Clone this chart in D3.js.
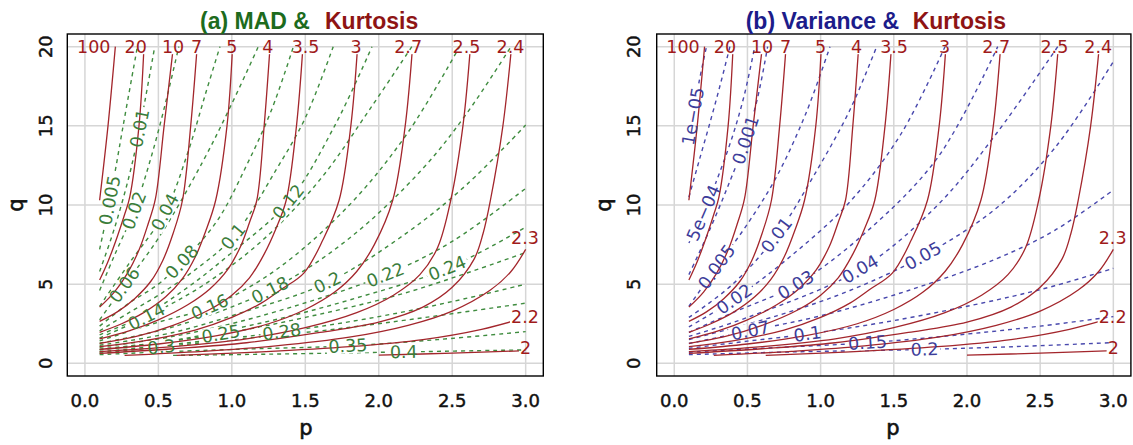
<!DOCTYPE html>
<html>
<head>
<meta charset="utf-8">
<script src="https://cdn.jsdelivr.net/npm/d3@7"></script>
<style>
  body { margin: 0; background: #ffffff; }
  svg { display: block; }
</style>
</head>
<body>
<svg id="fig" width="1133" height="445"></svg>
<script>
// ---- axis ticks -------------------------------------------------------------
const pTicks = [0, 0.5, 1, 1.5, 2, 2.5, 3];
const pTickLabels = ["0.0", "0.5", "1.0", "1.5", "2.0", "2.5", "3.0"];
const qTicks = [0, 5, 10, 15, 20];
const qTickLabels = ["0", "5", "10", "15", "20"];

// ---- kurtosis contours (solid), traced as [p, q] points ----------------------
const kurtosisLevels = ["100", "20", "10", "7", "5", "4", "3.5", "3", "2.7", "2.5", "2.4", "2.3", "2.2", "2"];
const kurtosisPaths = [
  [[0.1,10.3],[0.157,15],[0.207,20]],
  [[0.1,5.26],[0.16,6.5],[0.22,8.0],[0.27,9.4],[0.305,10.5],[0.368,15],[0.402,20]],
  [[0.1,3.55],[0.2,4.5],[0.29,5.7],[0.37,7.2],[0.43,8.8],[0.48,10.4],[0.539,15],[0.602,20]],
  [[0.1,2.65],[0.22,3.25],[0.34,4.1],[0.45,5.2],[0.53,6.5],[0.6,8.2],[0.664,10.3],[0.72,15],[0.764,20]],
  [[0.1,1.96],[0.25,2.5],[0.4,3.2],[0.55,4.2],[0.66,5.3],[0.75,6.7],[0.82,8.3],[0.89,10.3],[0.967,15],[1.005,20]],
  [[0.1,1.54],[0.3,2.05],[0.5,2.75],[0.7,3.7],[0.85,4.7],[0.97,5.9],[1.06,7.4],[1.12,8.9],[1.17,10.3],[1.22,15],[1.26,20]],
  [[0.1,1.26],[0.35,1.7],[0.6,2.4],[0.85,3.4],[1.0,4.3],[1.12,5.4],[1.22,6.9],[1.3,8.5],[1.37,10.3],[1.44,15],[1.484,20]],
  [[0.1,1.05],[0.4,1.42],[0.75,2.1],[1.0,2.9],[1.2,3.8],[1.33,4.63],[1.49,5.7],[1.62,7.8],[1.73,10.3],[1.81,15],[1.856,20]],
  [[0.1,0.88],[0.5,1.22],[0.9,1.75],[1.25,2.5],[1.5,3.4],[1.7,4.5],[1.85,5.8],[1.97,7.5],[2.095,10.3],[2.18,15],[2.23,20]],
  [[0.1,0.74],[0.6,1.05],[1.1,1.55],[1.5,2.25],[1.85,3.2],[2.1,4.3],[2.28,5.6],[2.4,7.3],[2.49,10.3],[2.573,15],[2.624,20]],
  [[0.1,0.63],[0.6,0.92],[1.1,1.3],[1.6,1.95],[2.0,2.6],[2.3,3.55],[2.5,4.8],[2.65,6.6],[2.71,8.2],[2.76,10.3],[2.845,15],[2.904,20]],
  [[0.27,0.5],[0.8,0.76],[1.3,1.1],[1.8,1.65],[2.2,2.4],[2.5,3.3],[2.76,4.63],[2.9,5.8],[3.0,7.2]],
  [[0.625,0.5],[1.2,0.72],[1.8,1.05],[2.3,1.5],[2.7,2.15],[3.0,2.9]],
  [[2.0,0.52],[2.5,0.64],[3.0,0.8]]
];
// where each kurtosis label sits, [p, q]
const kurtosisLabelAt = [
  [0.06,20],[0.346,20],[0.6,20],[0.76,20],[1.0,20],[1.245,20],[1.502,20],
  [1.846,20],[2.2,20],[2.597,20],[2.897,20],[2.995,7.9],[2.995,2.94],[2.999,0.95]
];

// ---- MAD contours (dashed, panel a) ----------------------------------------------
const madLevels = ["0.005", "0.01", "0.02", "0.04", "0.06", "0.08", "0.1", "0.12", "0.14", "0.16",
                   "0.18", "0.2", "0.22", "0.24", "0.25", "0.28", "0.3", "0.35", "0.4"];
const madPaths = [
  [[0.1,7.2],[0.17,10.3],[0.26,15],[0.357,20]],
  [[0.1,5.8],[0.2,8.5],[0.3,11.8],[0.373,14.85],[0.475,20]],
  [[0.1,4.6],[0.2,6.8],[0.335,9.65],[0.45,13.0],[0.55,16.5],[0.639,20]],
  [[0.1,3.6],[0.3,6.3],[0.545,9.55],[0.7,13.3],[0.82,17.0],[0.919,20]],
  [[0.1,2.75],[0.27,4.95],[0.5,7.9],[0.8,12.7],[1.0,16.4],[1.18,20]],
  [[0.1,2.35],[0.3,3.8],[0.5,5.0],[0.66,6.4],[0.9,9.0],[1.1,12.5],[1.27,16.0],[1.419,20]],
  [[0.1,2.05],[0.3,3.2],[0.5,4.3],[0.75,5.9],[1.01,8.0],[1.3,12.2],[1.5,15.5],[1.69,20]],
  [[0.1,1.8],[0.4,3.0],[0.7,4.8],[1.0,7.0],[1.385,10.2],[1.7,15.0],[1.954,20]],
  [[0.1,1.6],[0.42,2.95],[0.8,4.9],[1.2,7.7],[1.6,11.6],[1.95,16.2],[2.225,20]],
  [[0.1,1.42],[0.5,2.6],[0.85,3.55],[1.3,5.9],[1.8,10.0],[2.2,14.6],[2.55,20]],
  [[0.1,1.27],[0.6,2.3],[1.26,4.63],[1.8,7.9],[2.3,12.3],[2.6,15.8],[2.9,20]],
  [[0.1,1.14],[0.6,1.95],[1.1,3.3],[1.65,5.1],[2.2,8.3],[2.6,11.3],[3.0,15.05]],
  [[0.1,1.02],[0.6,1.7],[1.2,3.0],[2.045,5.58],[2.5,7.7],[3.0,11.05]],
  [[0.1,0.9],[0.6,1.45],[1.2,2.55],[1.8,4.0],[2.466,6.0],[3.0,8.6]],
  [[0.1,0.84],[0.5,1.3],[0.925,1.85],[1.5,2.9],[2.2,4.5],[3.0,7.0]],
  [[0.1,0.72],[0.6,1.2],[1.34,1.98],[2.0,2.95],[2.5,3.9],[3.0,5.0]],
  [[0.1,0.64],[0.52,1.03],[1.0,1.5],[1.6,2.05],[2.2,2.75],[3.0,3.8]],
  [[0.1,0.55],[0.6,0.75],[1.2,0.93],[1.79,1.1],[2.4,1.5],[3.0,2.0]],
  [[0.6,0.5],[1.4,0.6],[2.17,0.72],[3.0,0.85]]
];
// index of the point in each path that carries its label
const madLabelIndex = [1, 3, 2, 2, 1, 3, 4, 4, 1, 2, 2, 3, 3, 4, 2, 2, 1, 3, 2];

// ---- variance contours (dashed, panel b) -----------------------------------------
const varianceLevels = ["1e\u221205", "1e\u221204", "5e\u221204", "0.001", "0.005", "0.01", "0.02",
                        "0.03", "0.04", "0.05", "0.07", "0.1", "0.15", "0.2"];
const variancePaths = [
  [[0.1,14.2],[0.128,15.6],[0.17,17.8],[0.22,20]],
  [[0.1,10.5],[0.17,12.8],[0.25,15.4],[0.32,17.8],[0.38,20]],
  [[0.1,7.6],[0.2,9.5],[0.3,11.8],[0.4,14.4],[0.48,17.0],[0.55,20]],
  [[0.1,5.6],[0.25,8.6],[0.38,11.5],[0.488,14.1],[0.57,16.8],[0.638,20]],
  [[0.1,3.6],[0.29,6.1],[0.5,8.8],[0.7,11.8],[0.9,15.8],[1.064,20]],
  [[0.1,2.9],[0.4,5.0],[0.7,8.1],[0.95,11.8],[1.2,16.0],[1.383,20]],
  [[0.1,2.3],[0.41,4.05],[0.8,6.8],[1.2,10.2],[1.55,14.5],[1.85,20]],
  [[0.1,1.95],[0.4,3.2],[0.83,4.95],[1.3,8.2],[1.8,13.0],[2.21,20]],
  [[0.1,1.7],[0.5,2.9],[1.27,5.94],[1.8,10.0],[2.2,14.5],[2.62,20]],
  [[0.1,1.5],[0.7,3.0],[1.2,4.6],[1.7,6.78],[2.2,9.8],[2.6,13.6],[3.0,19.05]],
  [[0.1,1.25],[0.52,2.06],[1.0,3.0],[1.6,4.6],[2.2,6.6],[2.6,8.4],[3.0,10.95]],
  [[0.1,0.95],[0.5,1.4],[0.91,1.85],[1.5,2.7],[2.2,4.0],[2.6,4.9],[3.0,6.0]],
  [[0.1,0.7],[0.6,0.95],[1.32,1.3],[2.0,1.85],[2.5,2.35],[3.0,2.95]],
  [[0.1,0.55],[0.8,0.72],[1.71,0.88],[2.4,1.08],[3.0,1.31]]
];
const varianceLabelIndex = [1, -1, 1, 3, 1, 2, 1, 2, 2, 3, 1, 2, 2, 2];

// ---- figure layout ---------------------------------------------------------------
const panels = [
  {
    box: { left: 67.3, right: 543.3, top: 34, bottom: 376 },
    titleParts: [{ text: "(a) MAD &", x: 200, color: "#1d6b1d" }, { text: "Kurtosis", x: 325, color: "#8e1414" }],
    levels: madLevels, paths: madPaths, labelIndex: madLabelIndex,
    lineColor: "#3f8c3f", labelColor: "#3a7d3a",
    yTickX: 51.6, qLabelX: 23, pLabelX: 306
  },
  {
    box: { left: 656.7, right: 1130.9, top: 34, bottom: 376 },
    titleParts: [{ text: "(b) Variance &", x: 745.7, color: "#1c1c8a" }, { text: "Kurtosis", x: 912.7, color: "#8e1414" }],
    levels: varianceLevels, paths: variancePaths, labelIndex: varianceLabelIndex,
    lineColor: "#4848ad", labelColor: "#3d3d9a",
    yTickX: 640, qLabelX: 611, pLabelX: 893
  }
];

const redLine = "#a3262c";
const redText = "#a01b1b";
const tickFont = "'DejaVu Sans', sans-serif";

const svg = d3.select("#fig");
const defs = svg.append("defs");

panels.forEach((P, i) => {
  const x = d3.scaleLinear().domain([-0.12, 3.12]).range([P.box.left, P.box.right]);
  const y = d3.scaleLinear().domain([-0.8, 20.8]).range([P.box.bottom, P.box.top]);
  const bw = P.box.right - P.box.left, bh = P.box.bottom - P.box.top;

  defs.append("clipPath").attr("id", "clip" + i)
    .append("rect").attr("x", P.box.left).attr("y", P.box.top).attr("width", bw).attr("height", bh);

  const maskDash = defs.append("mask").attr("id", "maskDash" + i).attr("maskUnits", "userSpaceOnUse")
    .attr("x", 0).attr("y", 0).attr("width", 1133).attr("height", 445);
  maskDash.append("rect").attr("width", 1133).attr("height", 445).attr("fill", "#fff");
  const maskRed = defs.append("mask").attr("id", "maskRed" + i).attr("maskUnits", "userSpaceOnUse")
    .attr("x", 0).attr("y", 0).attr("width", 1133).attr("height", 445);
  maskRed.append("rect").attr("width", 1133).attr("height", 445).attr("fill", "#fff");

  const g = svg.append("g");

  // grid
  g.append("g").selectAll("line").data(pTicks).join("line")
    .attr("x1", d => x(d)).attr("x2", d => x(d))
    .attr("y1", P.box.top).attr("y2", P.box.bottom)
    .attr("stroke", "#d6d6d6").attr("stroke-width", 1.5);
  g.append("g").selectAll("line").data(qTicks).join("line")
    .attr("y1", d => y(d)).attr("y2", d => y(d))
    .attr("x1", P.box.left).attr("x2", P.box.right)
    .attr("stroke", "#d6d6d6").attr("stroke-width", 1.5);

  const line = d3.line().x(d => x(d[0])).y(d => y(d[1])).curve(d3.curveCatmullRom.alpha(0.5));

  // dashed contours (MAD or variance)
  g.append("g").attr("clip-path", `url(#clip${i})`).attr("mask", `url(#maskDash${i})`)
    .selectAll("path").data(P.paths).join("path")
    .attr("d", line).attr("fill", "none")
    .attr("stroke", P.lineColor).attr("stroke-width", 1.4).attr("stroke-dasharray", "4,4");

  // kurtosis contours
  g.append("g").attr("clip-path", `url(#clip${i})`).attr("mask", `url(#maskRed${i})`)
    .selectAll("path").data(kurtosisPaths).join("path")
    .attr("d", line).attr("fill", "none")
    .attr("stroke", redLine).attr("stroke-width", 1.3);

  // dashed-contour labels, turned along the contour
  const lab = g.append("g").attr("font-family", tickFont).attr("font-size", 17.5).attr("fill", P.labelColor);
  P.levels.forEach((lev, k) => {
    const idx = P.labelIndex[k];
    if (idx < 0) return;
    const pts = P.paths[k];
    const c = pts[idx];
    const a = pts[Math.max(idx - 1, 0)], b = pts[Math.min(idx + 1, pts.length - 1)];
    const ang = Math.atan2(y(b[1]) - y(a[1]), x(b[0]) - x(a[0])) * 180 / Math.PI;
    const tf = `translate(${x(c[0])},${y(c[1])}) rotate(${ang})`;
    const t = lab.append("text").attr("transform", tf)
      .attr("text-anchor", "middle").attr("dominant-baseline", "central").text(lev);
    const w = t.node().getComputedTextLength();
    maskDash.append("rect").attr("transform", tf)
      .attr("x", -w / 2 - 2).attr("y", -7.5).attr("width", w + 4).attr("height", 15).attr("fill", "#000");
  });

  // kurtosis labels
  const rl = g.append("g").attr("font-family", tickFont).attr("font-size", 17.5).attr("fill", redText);
  kurtosisLevels.forEach((lev, k) => {
    const c = kurtosisLabelAt[k];
    const tf = `translate(${x(c[0])},${y(c[1])})`;
    const t = rl.append("text").attr("transform", tf)
      .attr("text-anchor", "middle").attr("dominant-baseline", "central").text(lev);
    const w = t.node().getComputedTextLength();
    maskRed.append("rect").attr("transform", tf)
      .attr("x", -w / 2 - 1).attr("y", -7.5).attr("width", w + 2).attr("height", 15).attr("fill", "#000");
  });

  // frame
  g.append("rect").attr("x", P.box.left).attr("y", P.box.top).attr("width", bw).attr("height", bh)
    .attr("fill", "none").attr("stroke", "#000").attr("stroke-width", 1.4);

  // tick labels
  const tickStyle = sel => sel.attr("font-family", tickFont).attr("font-size", 18)
    .attr("fill", "#111").attr("stroke", "#111").attr("stroke-width", 0.45);
  g.append("g").call(tickStyle)
    .selectAll("text").data(pTicks).join("text")
    .attr("x", d => x(d)).attr("y", 406.7).attr("text-anchor", "middle")
    .text((d, j) => pTickLabels[j]);
  g.append("g").call(tickStyle)
    .selectAll("text").data(qTicks).join("text")
    .attr("transform", d => `translate(${P.yTickX},${y(d)}) rotate(-90)`)
    .attr("text-anchor", "middle")
    .text((d, j) => qTickLabels[j]);

  // axis titles
  g.append("text").attr("x", P.pLabelX).attr("y", 435).attr("text-anchor", "middle")
    .attr("font-family", tickFont).attr("font-size", 21).attr("fill", "#111")
    .attr("stroke", "#111").attr("stroke-width", 0.6).text("p");
  g.append("text").attr("transform", `translate(${P.qLabelX},${(P.box.top + P.box.bottom) / 2}) rotate(-90)`)
    .attr("text-anchor", "middle")
    .attr("font-family", tickFont).attr("font-size", 21).attr("fill", "#111")
    .attr("stroke", "#111").attr("stroke-width", 0.6).text("q");

  // panel title
  P.titleParts.forEach(part => {
    g.append("text").attr("x", part.x).attr("y", 29.3)
      .attr("font-family", "'Liberation Sans', Arial, sans-serif").attr("font-weight", "bold")
      .attr("font-size", 23).attr("fill", part.color).text(part.text);
  });
});
</script>
</body>
</html>
